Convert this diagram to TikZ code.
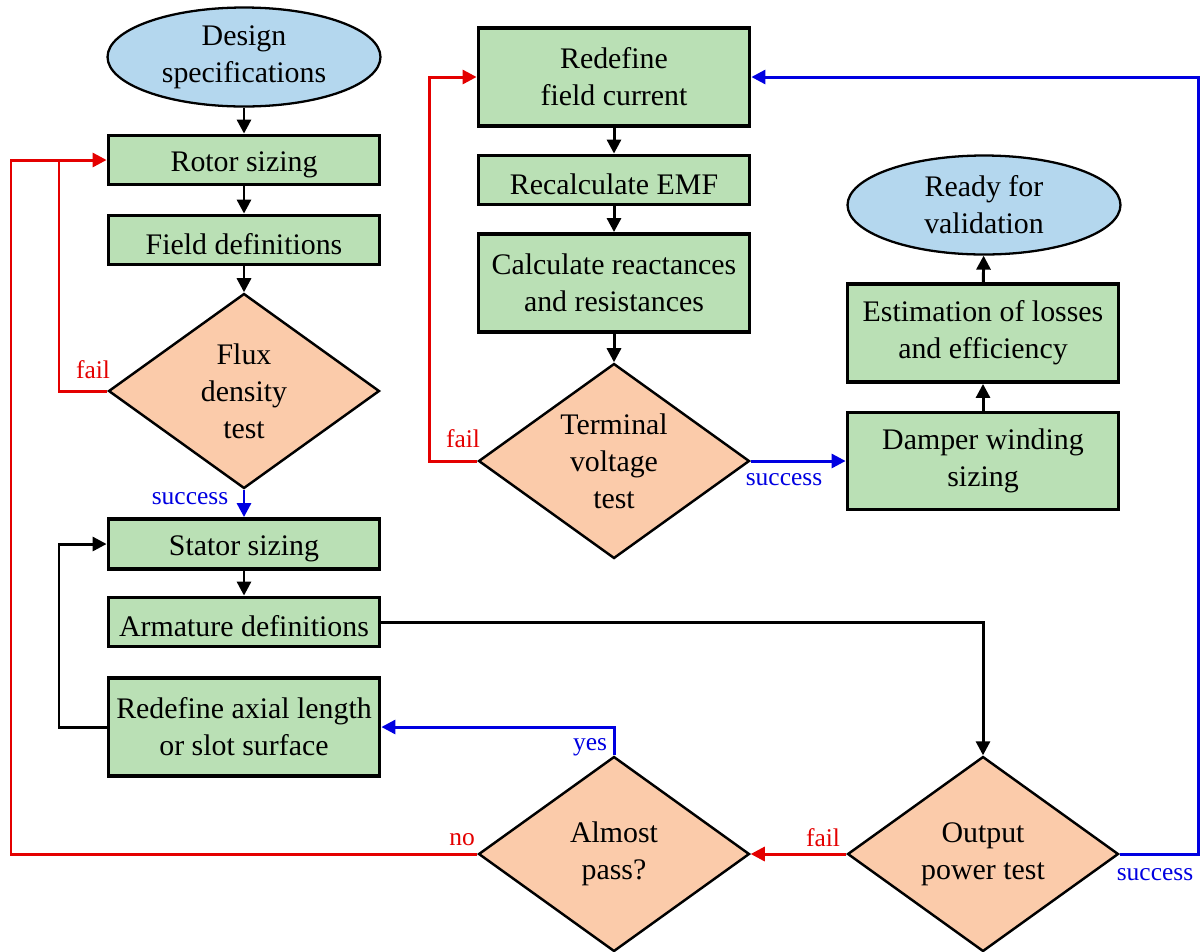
\documentclass[tikz,border=0pt]{standalone}
\usepackage{fontspec}
\setmainfont{Liberation Serif}
\usetikzlibrary{shapes.geometric,arrows.meta}
\definecolor{boxgreen}{RGB}{186,224,181}
\definecolor{ellblue}{RGB}{180,215,238}
\definecolor{diapeach}{RGB}{251,203,170}
\definecolor{lred}{RGB}{228,0,0}
\definecolor{lblue}{RGB}{0,0,225}
\tikzset{
  txt/.style={font=\fontsize{17}{21}\selectfont, align=center, text=black, execute at begin node={\rule{0pt}{17pt}}},
  procbox/.style={txt, draw=black, line width=2.2pt, fill=boxgreen, rectangle, inner sep=0pt, minimum width=5.42cm},
  termell/.style={txt, draw=black, line width=1.3pt, fill=ellblue, ellipse, inner sep=0pt, minimum width=5.46cm, minimum height=1.98cm},
  decide/.style={txt, draw=black, line width=1.4pt, fill=diapeach, diamond, shape aspect=1.4, inner sep=0pt, minimum width=5.42cm, minimum height=3.9cm},
  conn/.style={line width=1.7pt, -{Triangle[length=8pt,width=8pt]}},
  plain/.style={line width=1.7pt},
  lab/.style={font=\fontsize{14.5}{16}\selectfont, inner sep=0pt},
}
\begin{document}
\begin{tikzpicture}[x=0.02cm,y=-0.02cm]
\useasboundingbox (0,0) rectangle (1202,951);
% left column
\node[termell] (des) at (244,57) {Design\\specifications};
\node[procbox, minimum height=0.98cm] (rotor) at (244,160) {Rotor sizing};
\node[procbox, minimum height=0.98cm] (field) at (244,240) {Field definitions};
\node[decide] (flux) at (244,391) {Flux\\density\\test};
\node[procbox, minimum height=1.0cm] (stator) at (244,544) {Stator sizing};
\node[procbox, minimum height=0.98cm] (arm) at (244,622) {Armature definitions};
\node[procbox, minimum height=1.96cm] (axial) at (244,727) {Redefine axial length\\or slot surface};
% middle column
\node[procbox, minimum height=1.96cm] (redef) at (614,77) {Redefine\\field current};
\node[procbox, minimum height=0.98cm] (emf) at (614,180) {Recalculate EMF};
\node[procbox, minimum height=1.96cm] (calc) at (614,283) {Calculate reactances\\and resistances};
\node[decide] (term) at (614,461) {Terminal\\voltage\\test};
\node[decide] (almost) at (614,854) {Almost\\pass?};
% right column
\node[termell] (ready) at (984,205) {Ready for\\validation};
\node[procbox, minimum height=1.96cm] (est) at (983,333) {Estimation of losses\\and efficiency};
\node[procbox, minimum height=1.94cm] (damp) at (983,461) {Damper winding\\sizing};
\node[decide] (out) at (983,854) {Output\\power test};
% junction coordinates
\coordinate (jr) at (59,160);
\coordinate (jo) at (11,160);
\coordinate (jl) at (59,544);
\coordinate (jt) at (429,77);
\coordinate (jb) at (1198,77);
% black flow
\draw[conn] (des) -- (rotor);
\draw[conn] (rotor) -- (field);
\draw[conn] (field) -- (flux);
\draw[conn] (stator) -- (arm);
\draw[conn] (axial.west) -| (jl) -- (stator.west);
\draw[conn] (arm.east) -| (out.north);
\draw[conn] (redef) -- (emf);
\draw[conn] (emf) -- (calc);
\draw[conn] (calc) -- (term);
\draw[conn] (damp) -- (est);
\draw[conn] (est) -- (ready);
% blue flow
\draw[conn, lblue] (flux.south) -- (stator.north);
\draw[conn, lblue] (term.east) -- (damp.west);
\draw[conn, lblue] (almost.north) |- (axial.east);
\draw[conn, lblue] (out.east) -| (jb) -- (redef.east);
% red flow
\draw[plain, lred] (flux.west) -| (jr);
\draw[conn, lred] (almost.west) -| (jo) -- (rotor.west);
\draw[conn, lred] (term.west) -| (jt) -- (redef.west);
\draw[conn, lred] (out.west) -- (almost.east);
% labels
\node[lab, text=lred] (l1) at (93,370) {fail};
\node[lab, text=lblue] (l2) at (190,499) {success};
\node[lab, text=lred] (l3) at (463,439) {fail};
\node[lab, text=lblue] (l4) at (784,480) {success};
\node[lab, text=lblue] (l5) at (590,747) {yes};
\node[lab, text=lred] (l6) at (462,840) {no};
\node[lab, text=lred] (l7) at (823,838) {fail};
\node[lab, text=lblue] (l8) at (1155,875) {success};
\end{tikzpicture}
\end{document}
